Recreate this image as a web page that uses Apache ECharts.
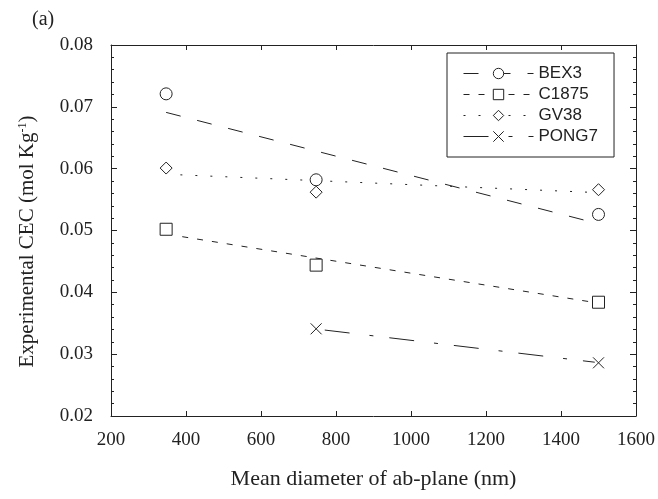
<!DOCTYPE html>
<html>
<head>
<meta charset="utf-8">
<script src="https://cdn.jsdelivr.net/npm/echarts@6/dist/echarts.min.js"></script>
<style>
  html, body { margin: 0; padding: 0; background: #fff; }
  #chart { width: 658px; height: 499px; }
</style>
</head>
<body>
<div id="chart"></div>
<script>
// measured points: [mean diameter (nm), CEC (mol/kg)]
const bex3 = [[347, 0.0721], [747, 0.0582], [1500, 0.0526]];
const c1875 = [[347, 0.0502], [747, 0.0444], [1500, 0.0384]];
const gv38 = [[347, 0.0601], [747, 0.0562], [1500, 0.0566]];
const pong7 = [[747, 0.0341], [1500, 0.0286]];

// fitted lines, end points
const bex3Fit = [[347, 0.0691], [1480, 0.0514]];
const c1875Fit = [[390, 0.0490], [1475, 0.0385]];
const gv38Fit = [[385, 0.0590], [1470, 0.0562]];
const pong7Fit = [[770, 0.0339], [1490, 0.0287]];

const names = ['BEX3', 'C1875', 'GV38', 'PONG7'];
const xTicks = [200, 400, 600, 800, 1000, 1200, 1400, 1600];
const yTicks = [0.02, 0.03, 0.04, 0.05, 0.06, 0.07, 0.08];

const ink = '#222';
const serif = 'Liberation Serif';
const crossPath = 'path://M0,0L10,10M0,10L10,0';

const chart = echarts.init(document.getElementById('chart'));

const fitLine = (name, data, dash, symbol) => ({
  name,
  type: 'line',
  data,
  symbol,
  symbolSize: 11,
  showSymbol: false,
  silent: true,
  itemStyle: { color: '#fff', borderColor: ink, borderWidth: 1 },
  lineStyle: { color: ink, width: 1, type: dash },
  z: 2
});

const points = (data, symbol, size) => ({
  type: 'scatter',
  data,
  symbol,
  symbolSize: size,
  silent: true,
  itemStyle: { color: '#fff', borderColor: ink, borderWidth: 1, opacity: 1 },
  z: 3
});

const axisCommon = {
  axisLine: { lineStyle: { color: ink, width: 1 } },
  splitLine: { show: false },
  axisTick: { inside: true, length: 5, lineStyle: { color: ink } }
};

chart.setOption({
  animation: false,
  title: {
    text: '(a)',
    left: 27,
    top: 5,
    textStyle: { fontFamily: serif, fontSize: 20, fontWeight: 'normal', color: ink }
  },
  grid: { left: 111, right: 22, top: 45, bottom: 83 },
  legend: {
    data: names,
    orient: 'vertical',
    left: 447,
    top: 53,
    padding: [12, 16, 12, 16],
    itemWidth: 70,
    itemHeight: 13,
    itemGap: 4,
    borderColor: ink,
    borderWidth: 1,
    selectedMode: false,
    itemStyle: { color: '#fff', borderColor: ink, borderWidth: 1 },
    lineStyle: { color: ink, width: 1 },
    textStyle: { fontFamily: 'Liberation Sans', fontSize: 17, color: ink }
  },
  xAxis: [
    Object.assign({}, axisCommon, {
      type: 'value',
      min: xTicks[0],
      max: xTicks[xTicks.length - 1],
      interval: 200,
      name: 'Mean diameter of ab-plane (nm)',
      nameLocation: 'middle',
      nameGap: 52,
      nameTextStyle: { fontFamily: serif, fontSize: 22, color: ink },
      axisLabel: { margin: 15, fontFamily: serif, fontSize: 19, color: ink, formatter: v => String(v) }
    }),
    Object.assign({}, axisCommon, {
      type: 'value',
      position: 'top',
      min: xTicks[0],
      max: xTicks[xTicks.length - 1],
      interval: 200,
      axisLabel: { show: false }
    })
  ],
  yAxis: [
    Object.assign({}, axisCommon, {
      type: 'value',
      min: yTicks[0],
      max: yTicks[yTicks.length - 1],
      interval: 0.01,
      minorTick: { show: true, splitNumber: 5, length: 3, lineStyle: { color: ink } },
      axisTick: { inside: true, length: 6, lineStyle: { color: ink } },
      name: 'Experimental CEC (mol Kg{sup|-1})',
      nameLocation: 'middle',
      nameRotate: 90,
      nameGap: 73,
      nameTextStyle: {
        fontFamily: serif, fontSize: 21, color: ink,
        padding: [0, 22, 0, 0],
        rich: { sup: { fontFamily: serif, fontSize: 12, color: ink, verticalAlign: 'top', padding: [0, 0, 9, 0] } }
      },
      axisLabel: {
        margin: 18, fontFamily: serif, fontSize: 19, color: ink,
        formatter: v => v.toFixed(2)
      }
    }),
    Object.assign({}, axisCommon, {
      type: 'value',
      position: 'right',
      min: yTicks[0],
      max: yTicks[yTicks.length - 1],
      interval: 0.01,
      minorTick: { show: true, splitNumber: 5, length: 3, lineStyle: { color: ink } },
      axisTick: { inside: true, length: 6, lineStyle: { color: ink } },
      axisLabel: { show: false }
    })
  ],
  series: [
    fitLine('BEX3', bex3Fit, [15, 17], 'circle'),
    fitLine('C1875', c1875Fit, [6, 9], 'rect'),
    fitLine('GV38', gv38Fit, [2, 13], 'diamond'),
    fitLine('PONG7', pong7Fit, [25, 20, 4, 16], crossPath),
    points(bex3, 'circle', 12),
    points(c1875, 'rect', 12),
    points(gv38, 'diamond', 12),
    points(pong7, crossPath, 11)
  ]
});
</script>
</body>
</html>
